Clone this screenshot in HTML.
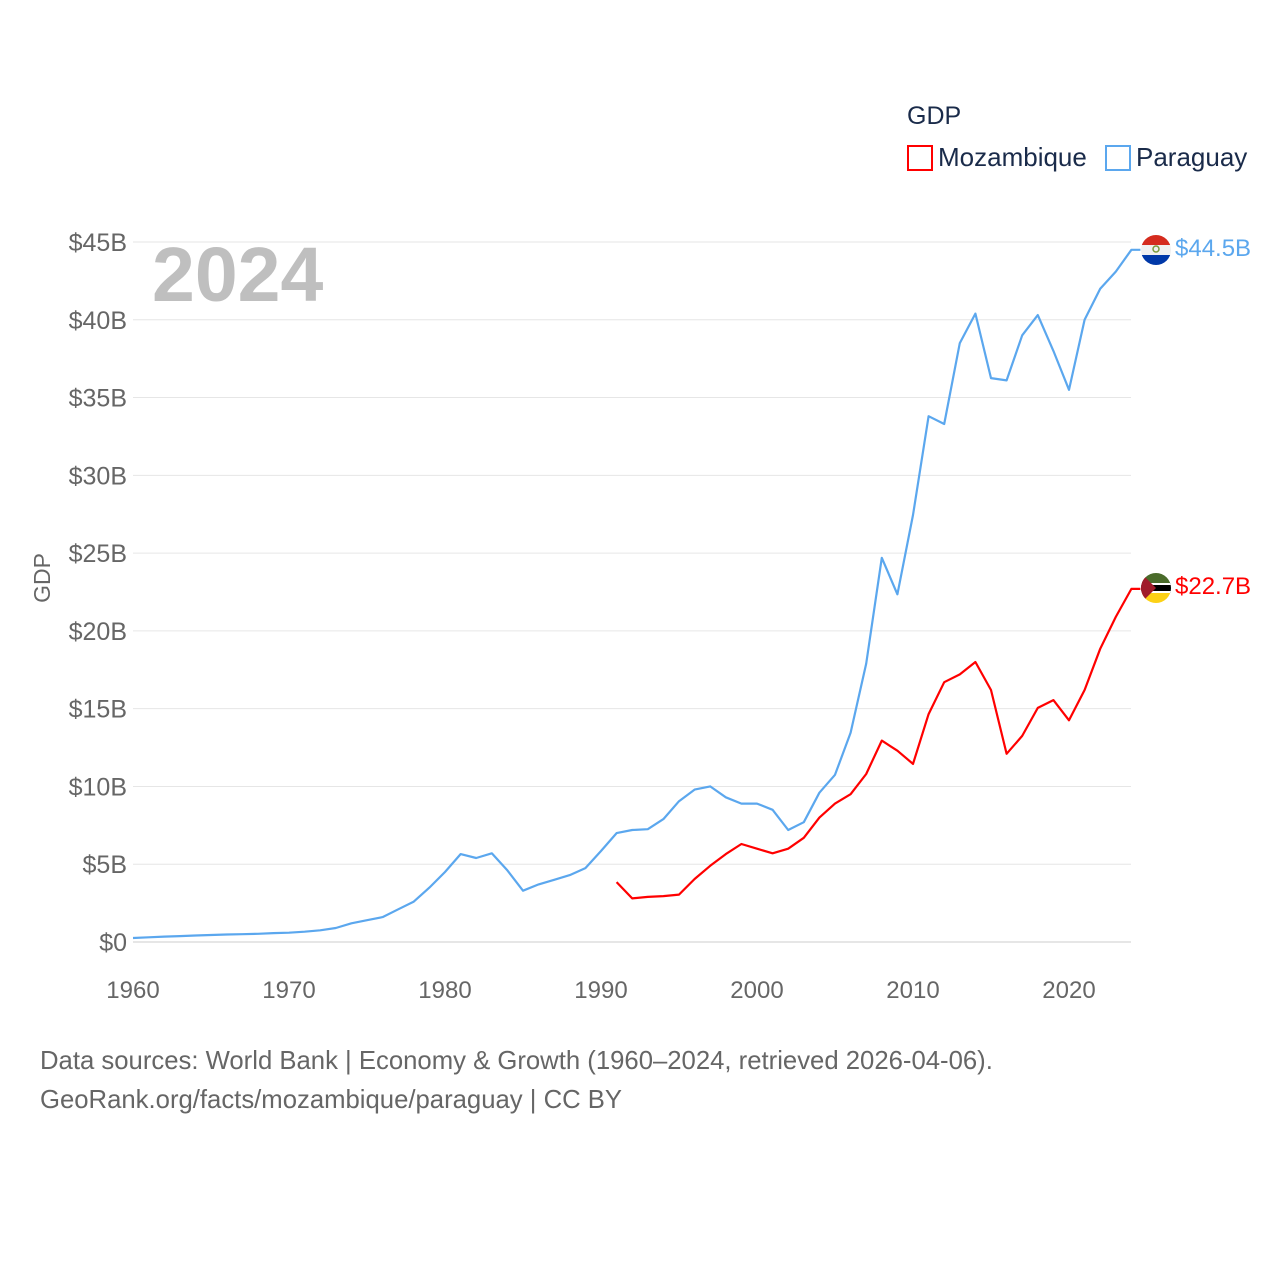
<!DOCTYPE html>
<html><head><meta charset="utf-8">
<style>
html,body{margin:0;padding:0;background:#fff;}
body{width:1280px;height:1280px;overflow:hidden;font-family:"Liberation Sans",sans-serif;}
</style></head>
<body>
<svg id="chart" width="1280" height="1280" xmlns="http://www.w3.org/2000/svg" font-family="Liberation Sans, sans-serif">
<g id="grid"></g>
<g id="yticks"></g>
<g id="xticks"></g>
<text x="50" y="578" transform="rotate(-90 50 578)" text-anchor="middle" font-size="23" fill="#666">GDP</text>
<text x="152" y="301" font-size="77" font-weight="bold" fill="#bfbfbf">2024</text>
<g id="series"></g>
<text x="907" y="124" font-size="25" fill="#1a2b4a">GDP</text>
<rect x="908" y="146" width="24" height="24" fill="none" stroke="#ff0000" stroke-width="2"/>
<text x="938" y="166" font-size="26" fill="#1a2b4a">Mozambique</text>
<rect x="1106" y="146" width="24" height="24" fill="none" stroke="#5ba7ee" stroke-width="2"/>
<text x="1136" y="166" font-size="26" fill="#1a2b4a">Paraguay</text>
<defs>
<clipPath id="cp1"><circle cx="1156" cy="250" r="15"/></clipPath>
<clipPath id="cp2"><circle cx="1156" cy="588" r="15"/></clipPath>
</defs>
<g clip-path="url(#cp1)">
<rect x="1141" y="235" width="30" height="10" fill="#d52b1e"/>
<rect x="1141" y="245" width="30" height="10" fill="#f0f0f0"/>
<rect x="1141" y="255" width="30" height="10" fill="#0038a8"/>
<circle cx="1156" cy="249" r="3" fill="none" stroke="#7a9a3a" stroke-width="1.5"/>
</g>
<g clip-path="url(#cp2)">
<rect x="1141" y="573" width="30" height="10" fill="#4a6b2a"/>
<rect x="1141" y="583" width="30" height="10" fill="#000"/>
<rect x="1141" y="583" width="30" height="2" fill="#fff"/>
<rect x="1141" y="591" width="30" height="2" fill="#fff"/>
<rect x="1141" y="593" width="30" height="10" fill="#fcd116"/>
<polygon points="1141,573 1156,588 1141,603" fill="#a01c2a"/>
</g>
<text x="1175" y="256" font-size="24" fill="#5ba7ee">$44.5B</text>
<text x="1175" y="594" font-size="24" fill="#ff0000">$22.7B</text>
<text x="40" y="1069" font-size="25.7" fill="#666">Data sources: World Bank | Economy &amp; Growth (1960–2024, retrieved 2026-04-06).</text>
<text x="40" y="1108" font-size="25.7" fill="#666">GeoRank.org/facts/mozambique/paraguay | CC BY</text>
</svg>
<script>
const yTickValues = [0,5,10,15,20,25,30,35,40,45];
const yTickLabels = ["$0","$5B","$10B","$15B","$20B","$25B","$30B","$35B","$40B","$45B"];
const xTickValues = [1960,1970,1980,1990,2000,2010,2020];
const paraguayStart = 1960;
const paraguayGDP = [0.26,0.3,0.35,0.38,0.42,0.45,0.48,0.5,0.53,0.57,0.6,0.66,0.75,0.9,1.2,1.4,1.6,2.1,2.6,3.5,4.5,5.65,5.4,5.7,4.6,3.3,3.7,4.0,4.3,4.75,5.85,7.0,7.2,7.25,7.9,9.05,9.8,10.0,9.3,8.9,8.9,8.5,7.2,7.7,9.6,10.75,13.45,17.9,24.7,22.35,27.45,33.8,33.3,38.5,40.4,36.25,36.1,39.0,40.3,38.0,35.5,40.0,42.0,43.1,44.5];
const mozambiqueStart = 1991;
const mozambiqueGDP = [3.85,2.8,2.9,2.95,3.05,4.05,4.9,5.65,6.3,6.0,5.7,6.0,6.7,8.0,8.9,9.5,10.8,12.95,12.3,11.45,14.65,16.7,17.2,18.0,16.2,12.1,13.25,15.05,15.55,14.25,16.2,18.85,20.9,22.7];

const NS="http://www.w3.org/2000/svg";
function xScale(yr){return 133+(yr-1960)*(936/60);}
function yScale(v){return 942-v*(700/45);}
function mk(tag,attrs,parent){const e=document.createElementNS(NS,tag);for(const k in attrs)e.setAttribute(k,attrs[k]);parent.appendChild(e);return e;}
const grid=document.getElementById('grid'),yt=document.getElementById('yticks'),xt=document.getElementById('xticks'),ser=document.getElementById('series');
yTickValues.forEach((v,i)=>{
  const l=mk('line',{x1:133,x2:1131,y1:yScale(v),y2:yScale(v),stroke:v===0?'#cccccc':'#e6e6e6','stroke-width':1},grid);
  
  
  const t=mk('text',{x:127,y:yScale(v)+9,'text-anchor':'end','font-size':25,fill:'#666'},yt);
  t.textContent=yTickLabels[i];
  
  
});
xTickValues.forEach(v=>{
  const t=mk('text',{x:xScale(v),y:998,'text-anchor':'middle','font-size':24,fill:'#666'},xt);
  t.textContent=v;
  
  
});
function drawLine(start,vals,color,name){
  let d='';
  vals.forEach((v,i)=>{d+=(i?'L':'M')+xScale(start+i).toFixed(1)+','+yScale(v).toFixed(1);});
  d+='L'+(xScale(start+vals.length-1)+9).toFixed(1)+','+yScale(vals[vals.length-1]).toFixed(1);
  const p=mk('path',{d:d,fill:'none',stroke:color,'stroke-width':2.2,'stroke-linejoin':'round'},ser);
  
  
}
drawLine(paraguayStart,paraguayGDP,'#5ba7ee','paraguay-line');
drawLine(mozambiqueStart,mozambiqueGDP,'#ff0000','mozambique-line');
</script>
</body></html>
